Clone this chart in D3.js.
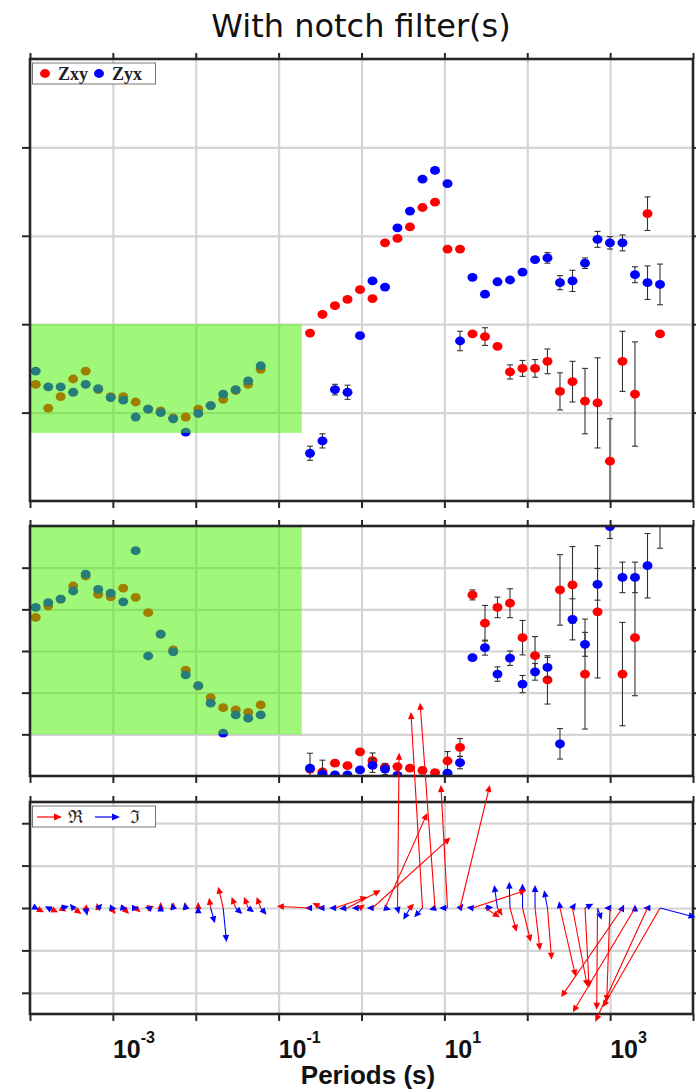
<!DOCTYPE html>
<html><head><meta charset="utf-8">
<script src="https://cdn.jsdelivr.net/npm/d3@7"></script>
<style>body{margin:0;background:#fff}</style>
</head><body>
<svg id="chart" width="696" height="1091"></svg>
<script>
// ---- periods (s): high-frequency band and low-frequency band ----
const periodsHF = [1.172e-4,1.660e-4,2.344e-4,3.319e-4,4.699e-4,6.653e-4,9.419e-4,1.334e-3,1.884e-3,2.667e-3,3.776e-3,5.346e-3,7.568e-3,1.072e-2,1.514e-2,2.143e-2,3.034e-2,4.295e-2,6.081e-2];
const periodsLF = [0.2393,0.3381,0.4786,0.6776,0.9594,1.358,1.923,2.716,3.846,5.445,7.709,10.91,15.45,21.83,30.90,43.75,61.94,87.70,124.2,175.4,248.3,351.6,497.7,704.7,995.4,1409,1995,2825,3999];

// ---- apparent resistivity (log10 units) ----
const rhoXY_HF = [1.32,1.05,1.18,1.38,1.47,1.26,1.18,1.18,1.12,1.04,1.02,0.94,0.95,1.04,1.08,1.15,1.25,1.32,1.49];
const rhoYX_HF = [1.47,1.29,1.29,1.23,1.32,1.27,1.17,1.14,0.95,1.04,1.00,0.93,0.78,0.99,1.08,1.21,1.26,1.36,1.53];
const rhoXY_LF = [1.90,2.11,2.21,2.28,2.39,2.29,2.92,2.97,3.10,3.32,3.38,2.85,2.85,1.89,1.86,1.75,1.46,1.50,1.50,1.58,1.24,1.35,1.13,1.11,0.45,1.58,1.21,3.25,1.89];
const rhoXY_LFerr = [0,0,0,0,0,0,0,0,0,0,0,0,0,0,0.10,0.03,0.08,0.09,0.10,0.14,0.21,0.23,0.37,0.51,0.48,0.34,0.59,0.19,0];
const rhoYX_LF = [0.54,0.68,1.26,1.23,1.87,2.49,2.42,3.09,3.28,3.64,3.74,3.59,1.81,2.53,2.34,2.48,2.50,2.59,2.73,2.75,2.47,2.49,2.69,2.96,2.92,2.92,2.56,2.47,2.45];
const rhoYX_LFerr = [0.08,0.08,0.06,0.08,0,0,0,0,0,0,0,0,0.11,0,0,0,0,0,0,0.06,0.08,0.12,0.06,0.09,0.07,0.09,0.09,0.19,0.23];

// ---- impedance phase (degrees) ----
const phiXY_HF = [57.1,61.2,63.7,68.4,72.0,65.4,64.5,67.6,64.3,58.8,51.1,45.4,38.1,32.4,28.2,24.6,23.8,22.9,25.6];
const phiYX_HF = [60.7,62.4,63.7,66.6,72.7,67.2,65.8,62.7,81.1,43.2,51.1,44.7,36.4,32.5,26.2,15.4,22.0,20.8,22.0];
const phiXY_LF = [2.5,1.5,4.6,3.7,8.7,5.5,3.2,3.4,2.8,2.0,1.2,5.4,10.3,65.2,55.0,60.7,62.2,49.8,43.3,34.6,67.0,68.8,36.7,59.1,null,36.7,49.8,null,null];
const phiXY_LFerr = [0,0,0,0,0,2.8,0,0,0,0,0,3.4,3.2,1.8,6.4,3.7,5.2,6.2,6.9,8.7,12.7,13.8,19.8,23.8,0,18.6,20.9,0,0];
const phiYX_LF = [2.8,0.7,0.4,0.4,2.2,3.8,2.5,0.2,-2,-2,-2,1.0,4.8,42.6,46.2,36.7,42.4,33.1,37.5,39.1,11.6,56.4,47.4,69.0,89.8,71.5,71.5,75.7,97];
const phiYX_LFerr = [5.4,5.0,0,0,0,2.5,2.0,0,0,0,0,0,2.2,0,2.7,2.6,2.6,3.1,3.0,3.6,5.5,7.4,4.3,5.7,4.3,5.5,5.5,11.6,15];

// ---- induction vectors: [horizontal component (decades), vertical component] ----
const tipRe_HF = [[0.10,-0.05],[0.12,-0.05],[0.07,-0.04],[0.10,-0.07],[0.05,-0.04],[-0.02,0.06],[0.06,-0.07],[0.07,-0.07],[0.06,-0.05],[0.07,0.02],[0,0.07],[0,0.07],[-0.01,0.07],[0,0.07],[-0.02,0.12],[-0.06,0.25],[-0.05,0.13],[-0.05,0.13],[-0.05,0.13]];
const tipIm_HF = [[0.04,-0.02],[-0.04,0.02],[0.10,0.02],[-0.04,0.05],[0.02,-0.09],[0.05,0.05],[0.07,-0.01],[0.05,-0.01],[0.04,0],[-0.04,0.01],[0,0.04],[-0.02,0.06],[-0.02,0.06],[0,0.02],[0.05,-0.18],[0.04,-0.40],[0.08,-0.07],[0.07,-0.05],[0.07,-0.08]];
const tipRe_LF = [[-0.40,0.02],[-0.12,0.06],[0.39,0.13],[0.40,0.21],[0.06,0.04],[0.94,0.83],[0.51,1.12],[0.02,1.83],[0.05,0.05],[-0.14,2.31],[-0.18,2.42],[-0.08,1.45],[0.36,1.45],[0.65,0.21],[0.18,-0.11],[0.06,-0.09],[0.08,-0.28],[0.10,-0.40],[0.06,-0.50],[0.05,-0.61],[0.19,-0.81],[0.18,-0.93],[0.05,-0.94],[-0.01,-1.20],[-0.04,-1.11],[-0.74,-1.05],[-0.75,-1.23],[-0.63,-1.34],[-0.69,-1.17]];
const tipIm_LF = [[-0.06,0],[-0.06,0],[-0.07,0],[-0.10,-0.01],[-0.10,0],[-0.07,0],[0.07,-0.02],[0.02,-0.07],[-0.08,-0.14],[-0.10,-0.11],[-0.07,-0.02],[-0.10,0],[0.04,0.05],[-0.07,0.01],[0.10,0.01],[-0.04,0.27],[-0.01,0.31],[0,0.29],[0,0.27],[-0.04,0.21],[-0.01,0.08],[0.04,0.06],[0.10,0.05],[0.05,-0.14],[-0.07,0],[0.02,0.04],[0,0.04],[-0.05,0],[0.43,-0.11]];

// ---- axis ticks ----
const decades = [1e-4,1e-3,1e-2,1e-1,1e0,1e1,1e2,1e3,1e4];
const labelDecades = [1e-3,1e-1,1e1,1e3];
const rhoTicks = [1,2,3,4];
const phiTicks = [15,30,45,60,75];
const tipTicks = [-1,-0.5,0,0.5,1];
// band where the notch filter acts
const notchBand = [1e-4, 0.19];
const notchRho = [0.77, 2.0];
const notchPhi = [15, 90];

const RED = "#ff0000", BLUE = "#0000ff";
const svg = d3.select("#chart");
const L = 30, R = 693;
const x = d3.scaleLog().domain([1e-4, 1e4]).range([L, R]);

const yRho = d3.scaleLinear().domain([0, 5]).range([501, 59]);
const yPhi = d3.scaleLinear().domain([0, 90]).range([776, 526]);
const yTip = d3.scaleLinear().domain([-1.25, 1.25]).range([1014, 802]);

svg.append("text").attr("x", 361).attr("y", 37).attr("text-anchor", "middle")
  .attr("font-family", "DejaVu Sans, Verdana, sans-serif").attr("font-size", 32)
  .attr("fill", "#111").text("With notch filter(s)");

const defs = svg.append("defs");

function panel(id, y, ticks) {
  const [y1, y0] = y.range();
  const g = svg.append("g");
  // grid
  g.append("g").attr("transform", `translate(0,${y1})`)
    .call(d3.axisBottom(x).tickValues(decades.slice(1, -1)).tickSize(-(y1 - y0)).tickFormat(""))
    .call(a => a.select(".domain").remove())
    .call(a => a.selectAll("line").attr("stroke", "#d4d4d4").attr("stroke-width", 2.2));
  g.append("g").attr("transform", `translate(${L},0)`)
    .call(d3.axisLeft(y).tickValues(ticks).tickSize(-(R - L)).tickFormat(""))
    .call(a => a.select(".domain").remove())
    .call(a => a.selectAll("line").attr("stroke", "#d4d4d4").attr("stroke-width", 2.2));
  defs.append("clipPath").attr("id", id).append("rect")
    .attr("x", L).attr("y", y0).attr("width", R - L).attr("height", y1 - y0);
  const content = g.append("g").attr("clip-path", `url(#${id})`);
  const frame = svg.append("g");
  const style = a => { a.select(".domain").remove(); a.selectAll("line").attr("stroke", "#262626").attr("stroke-width", 2); };
  frame.append("g").attr("transform", `translate(${L},0)`).call(d3.axisLeft(y).tickValues(ticks).tickSize(8).tickFormat("")).call(style);
  frame.append("g").attr("transform", `translate(${R},0)`).call(d3.axisRight(y).tickValues(ticks).tickSize(4).tickFormat("")).call(style);
  frame.append("g").attr("transform", `translate(0,${y0})`).call(d3.axisTop(x).tickValues(decades).tickSize(6).tickFormat("")).call(style);
  frame.append("g").attr("transform", `translate(0,${y1})`).call(d3.axisBottom(x).tickValues(decades).tickSize(7).tickFormat("")).call(style);
  frame.append("rect").attr("x", L).attr("y", y0).attr("width", R - L).attr("height", y1 - y0)
    .attr("fill", "none").attr("stroke", "#262626").attr("stroke-width", 2.6);
  return content;
}

function series(g, y, periods, vals, errs, color) {
  const pts = periods.map((p, i) => ({p, v: vals[i], e: errs ? errs[i] : 0})).filter(d => d.v !== null);
  const eb = g.append("g").attr("stroke", "#333").attr("stroke-width", 1.1);
  pts.filter(d => d.e > 0).forEach(d => {
    const cx = x(d.p), ya = y(d.v - d.e), yb = y(d.v + d.e);
    eb.append("line").attr("x1", cx).attr("x2", cx).attr("y1", ya).attr("y2", yb);
    eb.append("line").attr("x1", cx - 3).attr("x2", cx + 3).attr("y1", ya).attr("y2", ya);
    eb.append("line").attr("x1", cx - 3).attr("x2", cx + 3).attr("y1", yb).attr("y2", yb);
  });
  g.append("g").selectAll("ellipse").data(pts).join("ellipse")
    .attr("cx", d => x(d.p)).attr("cy", d => y(d.v)).attr("rx", 5).attr("ry", 4.4).attr("fill", color);
}

function notch(g, y, band) {
  g.append("rect").attr("x", x(notchBand[0])).attr("width", x(notchBand[1]) - x(notchBand[0]))
    .attr("y", y(band[1])).attr("height", y(band[0]) - y(band[1]))
    .attr("fill", "rgb(72,242,0)").attr("fill-opacity", 0.52);
}

// ---- panel 1: apparent resistivity ----
const g1 = panel("c1", yRho, rhoTicks);
series(g1, yRho, periodsHF, rhoXY_HF, null, RED);
series(g1, yRho, periodsHF, rhoYX_HF, null, BLUE);
series(g1, yRho, periodsLF, rhoXY_LF, rhoXY_LFerr, RED);
series(g1, yRho, periodsLF, rhoYX_LF, rhoYX_LFerr, BLUE);
notch(g1, yRho, notchRho);

// ---- panel 2: phase ----
const g2 = panel("c2", yPhi, phiTicks);
series(g2, yPhi, periodsHF, phiXY_HF, null, RED);
series(g2, yPhi, periodsHF, phiYX_HF, null, BLUE);
series(g2, yPhi, periodsLF, phiXY_LF, phiXY_LFerr, RED);
series(g2, yPhi, periodsLF, phiYX_LF, phiYX_LFerr, BLUE);
notch(g2, yPhi, notchPhi);

// ---- panel 3: induction arrows ----
const g3 = panel("c3", yTip, tipTicks);
const arrowLayer = svg.append("g");
function arrows(periods, comps, color) {
  const lay = arrowLayer.append("g");
  periods.forEach((p, i) => {
    const [u, v] = comps[i];
    const x0 = x(p), y0 = yTip(0), x1 = x(p * Math.pow(10, u)), y1 = yTip(v);
    const dx = x1 - x0, dy = y1 - y0, len = Math.hypot(dx, dy) || 1;
    const ux = dx / len, uy = dy / len, hl = 7, hw = 3.3;
    lay.append("line").attr("x1", x0).attr("y1", y0).attr("x2", x1 - ux * hl * 0.6).attr("y2", y1 - uy * hl * 0.6)
      .attr("stroke", color).attr("stroke-width", 1.1);
    const bx = x1 - ux * hl, by = y1 - uy * hl;
    lay.append("path").attr("d", `M${x1},${y1}L${bx - uy * hw},${by + ux * hw}L${bx + uy * hw},${by - ux * hw}Z`).attr("fill", color);
  });
}
arrows(periodsHF, tipRe_HF, RED);
arrows(periodsHF, tipIm_HF, BLUE);
arrows(periodsLF, tipIm_LF, BLUE);
arrows(periodsLF, tipRe_LF, RED);

// ---- x tick labels and title ----
const lab = svg.append("g").attr("font-family", "Liberation Sans, Arial, sans-serif").attr("font-weight", "bold").attr("fill", "#111");
labelDecades.forEach(d => {
  const t = lab.append("text").attr("x", x(d)).attr("y", 1058).attr("font-size", 25);
  t.append("tspan").text("10");
  t.append("tspan").attr("font-size", 16).attr("dy", -15).text(String(Math.round(Math.log10(d))));
});
lab.append("text").attr("x", 368).attr("y", 1084).attr("text-anchor", "middle").attr("font-size", 26).text("Periods (s)");

// ---- legends ----
function legendBox(y0) {
  svg.append("rect").attr("x", 32.5).attr("y", y0).attr("width", 123).attr("height", 21)
    .attr("fill", "#fff").attr("stroke", "#777").attr("stroke-width", 1);
}
legendBox(63);
const lg1 = svg.append("g").attr("font-family", "Liberation Serif, Times New Roman, serif").attr("font-weight", "bold").attr("font-size", 18).attr("fill", "#222");
lg1.append("ellipse").attr("cx", 45).attr("cy", 73.5).attr("rx", 5).attr("ry", 4.4).attr("fill", RED);
lg1.append("text").attr("x", 58).attr("y", 80).text("Zxy");
lg1.append("ellipse").attr("cx", 99).attr("cy", 73.5).attr("rx", 5).attr("ry", 4.4).attr("fill", BLUE);
lg1.append("text").attr("x", 112).attr("y", 80).text("Zyx");

legendBox(806);
const lg3 = svg.append("g");
[[37, 62, RED], [95, 120, BLUE]].forEach(([a, b, c]) => {
  lg3.append("line").attr("x1", a).attr("x2", b - 5).attr("y1", 817).attr("y2", 817).attr("stroke", c).attr("stroke-width", 1.2);
  lg3.append("path").attr("d", `M${b},817L${b - 8},813.5L${b - 8},820.5Z`).attr("fill", c);
});
lg3.append("text").attr("x", 68).attr("y", 823).attr("font-family", "DejaVu Serif, serif").attr("font-size", 18).attr("fill", "#222").text("ℜ");
lg3.append("text").attr("x", 130).attr("y", 823).attr("font-family", "DejaVu Serif, serif").attr("font-size", 18).attr("fill", "#222").text("ℑ");
</script>
</body></html>
